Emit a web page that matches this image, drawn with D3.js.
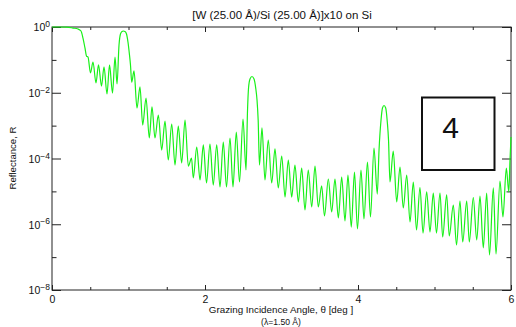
<!DOCTYPE html>
<html>
<head>
<meta charset="utf-8">
<script src="https://cdn.jsdelivr.net/npm/d3@7"></script>
<style>
  body { margin: 0; background: #fff; }
  svg { display: block; font-family: "Liberation Sans", Arial, Helvetica, sans-serif; }
</style>
</head>
<body>
<svg id="chart" width="516" height="327"></svg>
<script>
// Grazing incidence angle (deg) and reflectance of the W/Si multilayer
const angle = [
  0, 0.105, 0.196, 0.275, 0.340, 0.379, 0.405, 0.431, 0.451,
  0.471, 0.503, 0.536, 0.575, 0.608, 0.647, 0.680, 0.719, 0.752, 0.791, 0.824, 0.850,
  0.876, 0.895, 0.915, 0.932, 0.954, 0.974, 0.993, 1.013, 1.026,
  1.042, 1.072, 1.111, 1.150, 1.186, 1.229, 1.272, 1.307, 1.346, 1.390,
  1.434, 1.477, 1.520, 1.565, 1.608, 1.651, 1.695, 1.739, 1.782, 1.824,
  1.847, 1.892, 1.935, 1.978, 2.020, 2.065, 2.108, 2.153, 2.196, 2.239,
  2.281, 2.327, 2.366, 2.409, 2.451, 2.497, 2.536,
  2.556, 2.569, 2.588, 2.614, 2.641, 2.663, 2.680, 2.695,
  2.712, 2.745, 2.784, 2.827, 2.872, 2.915, 2.958, 3.003, 3.046, 3.089,
  3.133, 3.176, 3.220, 3.264, 3.307, 3.350, 3.395, 3.438, 3.481, 3.525,
  3.562, 3.612, 3.656, 3.699, 3.743, 3.787, 3.830, 3.869, 3.912, 3.954,
  3.993, 4.039, 4.078, 4.124, 4.163, 4.209, 4.252,
  4.275, 4.301, 4.320, 4.340, 4.362, 4.383, 4.399,
  4.418, 4.461, 4.506, 4.549, 4.592, 4.637, 4.680, 4.723, 4.765, 4.810,
  4.850, 4.898, 4.941, 4.984, 5.026, 5.072, 5.107, 5.159, 5.193, 5.246,
  5.288, 5.333, 5.369, 5.421, 5.455, 5.507, 5.552, 5.595, 5.638, 5.682,
  5.719, 5.769, 5.804, 5.856, 5.895, 5.939, 5.971, 5.987, 6.000
];
const reflectance = [
  1, 1, 0.99, 0.93, 0.87, 0.755, 0.46, 0.23, 0.131,
  0.122, 4.0e-2, 8.6e-2, 2.0e-2, 7.0e-2, 1.6e-2, 6.1e-2, 9.2e-3, 7.0e-2, 9.8e-3, 0.122, 1.85e-2,
  0.283, 0.612, 0.730, 0.755, 0.730, 0.612, 0.350, 0.141, 7.0e-2,
  2.1e-2, 4.6e-2, 3.4e-3, 1.5e-2, 1.04e-3, 6.9e-3, 4.2e-4, 3.7e-3, 4.2e-4, 2.1e-3,
  1.8e-4, 1.38e-3, 9.0e-5, 1.12e-3, 6.3e-5, 9.7e-4, 7.3e-5, 1.48e-3, 5.9e-5, 1.03e-4,
  2.55e-5, 2.24e-4, 2.22e-5, 2.58e-4, 1.8e-5, 2.76e-4, 1.56e-5, 2.58e-4, 1.36e-5, 3.18e-4,
  1.36e-5, 4.21e-4, 1.36e-5, 6.4e-4, 1.93e-5, 1.59e-3, 4.47e-5,
  2.99e-3, 1.39e-2, 2.62e-2, 3.12e-2, 2.62e-2, 1.39e-2, 6.0e-3, 1.48e-3,
  6.3e-5, 8.5e-4, 2.22e-5, 3.66e-4, 1.8e-5, 1.95e-4, 1.27e-5, 1.19e-4, 6.7e-6, 9.0e-5,
  6.7e-6, 6.3e-5, 4.75e-6, 5.1e-5, 2.71e-6, 4.47e-5, 3.35e-6, 5.9e-5, 3.35e-6, 1.46e-5,
  1.78e-6, 2.38e-5, 2.36e-6, 2.38e-5, 1.55e-6, 2.74e-5, 1.26e-6, 3.15e-5, 8.2e-7, 3.88e-5,
  7.2e-7, 4.47e-5, 1.45e-6, 7.8e-5, 1.66e-6, 2.08e-4, 8.3e-6,
  1.82e-4, 1.48e-3, 3.44e-3, 4.09e-3, 3.44e-3, 1.29e-3, 3.66e-4,
  1.93e-5, 1.69e-4, 4.75e-6, 5.5e-5, 3.12e-6, 3.15e-5, 1.17e-6, 1.93e-5, 6.7e-7, 1.31e-5,
  5.4e-7, 9.6e-6, 5.8e-7, 8.9e-6, 5.4e-7, 8.9e-6, 4.09e-7, 7.8e-6, 4.4e-7, 3.85e-6,
  2.34e-7, 5.1e-6, 2.88e-7, 5.1e-6, 2.88e-7, 6.5e-6, 3.32e-7, 7.2e-6, 1.9e-7, 8.9e-6,
  1.16e-7, 1.27e-5, 1.24e-7, 2.07e-5, 1.66e-6, 5.1e-5, 9.6e-6, 9.0e-5, 4.5e-4
];

// Axis ticks
const xMajorTicks = [0, 2, 4, 6];
const xMinorTicks = [0.5, 1, 1.5, 2.5, 3, 3.5, 4.5, 5, 5.5];
const yMajorExponents = [0, -2, -4, -6, -8];
const yMinorExponents = [-1, -3, -5, -7];

// Texts
const titleText = "[W (25.00 Å)/Si (25.00 Å)]x10 on Si";
const xTitleText = "Grazing Incidence Angle, θ [deg ]";
const xSubtitleText = "(λ=1.50 Å)";
const yTitleText = "Reflectance, R";
const panelLabel = "4";

const svg = d3.select("#chart");
const plot = { left: 52, right: 511, top: 27, bottom: 290 };

const x = d3.scaleLinear().domain([0, 6]).range([plot.left, plot.right]);
const y = d3.scaleLog().domain([1e-8, 1]).range([plot.bottom, plot.top]);

const pow10 = e => Math.pow(10, e);

// Frame
svg.append("rect")
  .attr("x", plot.left).attr("y", plot.top)
  .attr("width", plot.right - plot.left).attr("height", plot.bottom - plot.top)
  .attr("fill", "none").attr("stroke", "#222").attr("stroke-width", 1);

function styleAxis(g) {
  g.select(".domain").remove();
  g.selectAll(".tick line").attr("stroke", "#222").attr("stroke-width", 1);
}

// Bottom axis: major ticks with labels, minor ticks without
svg.append("g")
  .attr("transform", `translate(0,${plot.bottom})`)
  .call(d3.axisBottom(x).tickValues(xMajorTicks).tickSize(-5).tickPadding(6).tickFormat(d3.format("d")))
  .call(styleAxis)
  .call(g => g.selectAll("text").attr("font-size", 10.5).attr("fill", "#111").attr("font-family", null));
svg.append("g")
  .attr("transform", `translate(0,${plot.bottom})`)
  .call(d3.axisBottom(x).tickValues(xMinorTicks).tickSize(-3).tickFormat(""))
  .call(styleAxis);

// Top axis ticks
svg.append("g")
  .attr("transform", `translate(0,${plot.top})`)
  .call(d3.axisTop(x).tickValues(xMajorTicks).tickSize(-5).tickFormat(""))
  .call(styleAxis);
svg.append("g")
  .attr("transform", `translate(0,${plot.top})`)
  .call(d3.axisTop(x).tickValues(xMinorTicks).tickSize(-3).tickFormat(""))
  .call(styleAxis);

// Left axis with 10^n labels
const yLeft = svg.append("g")
  .attr("transform", `translate(${plot.left},0)`)
  .call(d3.axisLeft(y).tickValues(yMajorExponents.map(pow10)).tickSize(-9).tickPadding(2))
  .call(styleAxis);
yLeft.selectAll(".tick text")
  .attr("font-family", null)
  .attr("font-size", 10.5)
  .attr("fill", "#111")
  .attr("dy", "0.36em")
  .each(function (d) {
    const e = Math.round(Math.log10(d));
    const t = d3.select(this).text(null);
    t.append("tspan").text("10");
    t.append("tspan")
      .attr("dy", "-0.5em")
      .attr("font-size", 8.5)
      .text(String(e).replace("-", "−"));
  });
svg.append("g")
  .attr("transform", `translate(${plot.left},0)`)
  .call(d3.axisLeft(y).tickValues(yMinorExponents.map(pow10)).tickSize(-4.5).tickFormat(""))
  .call(styleAxis);

// Right axis ticks
svg.append("g")
  .attr("transform", `translate(${plot.right},0)`)
  .call(d3.axisRight(y).tickValues(yMajorExponents.map(pow10)).tickSize(-9).tickFormat(""))
  .call(styleAxis);
svg.append("g")
  .attr("transform", `translate(${plot.right},0)`)
  .call(d3.axisRight(y).tickValues(yMinorExponents.map(pow10)).tickSize(-4.5).tickFormat(""))
  .call(styleAxis);

// Reflectivity curve
const points = angle.map((a, i) => [a, reflectance[i]]);
const line = d3.line()
  .x(d => x(d[0]))
  .y(d => y(d[1]))
  .curve(d3.curveMonotoneX);
svg.append("path")
  .datum(points)
  .attr("d", line)
  .attr("fill", "none")
  .attr("stroke", "#19f019")
  .attr("stroke-width", 1.2)
  .attr("stroke-linejoin", "round");

// Titles
svg.append("text")
  .attr("x", 282).attr("y", 19)
  .attr("text-anchor", "middle")
  .attr("font-size", 11.5).attr("fill", "#111")
  .text(titleText);
svg.append("text")
  .attr("x", 281).attr("y", 313)
  .attr("text-anchor", "middle")
  .attr("font-size", 9.8).attr("fill", "#111")
  .text(xTitleText);
svg.append("text")
  .attr("x", 281).attr("y", 325)
  .attr("text-anchor", "middle")
  .attr("font-size", 8.6).attr("fill", "#111")
  .text(xSubtitleText);
svg.append("text")
  .attr("transform", "translate(15.5,158) rotate(-90)")
  .attr("text-anchor", "middle")
  .attr("font-size", 9.6).attr("fill", "#111")
  .text(yTitleText);

// Panel number box
svg.append("rect")
  .attr("x", 422).attr("y", 97.5)
  .attr("width", 72.5).attr("height", 72.5)
  .attr("fill", "#fff")
  .attr("stroke", "#111").attr("stroke-width", 2);
svg.append("text")
  .attr("x", 450.5).attr("y", 138.3)
  .attr("text-anchor", "middle")
  .attr("font-size", 30).attr("font-weight", 300).attr("fill", "#111")
  .text(panelLabel);
</script>
</body>
</html>
